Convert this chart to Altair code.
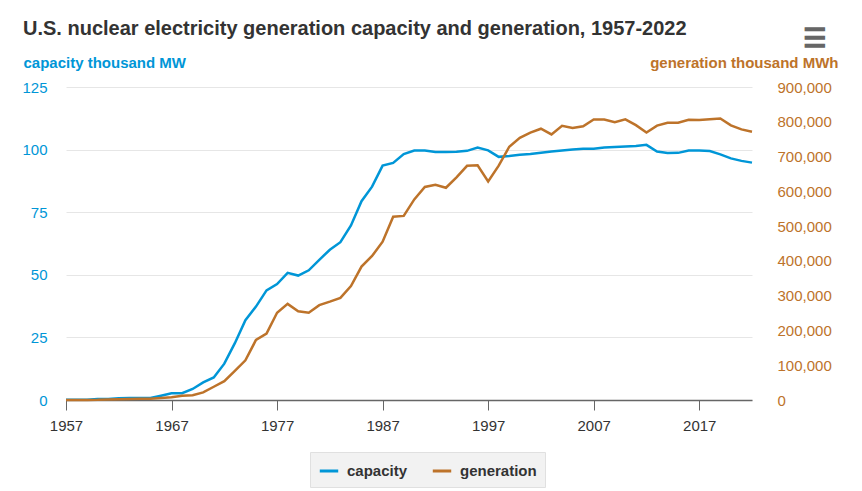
import altair as alt
import pandas as pd

years = list(range(1957, 2023))
capacity = [0.055, 0.055, 0.055, 0.411, 0.411, 0.658, 0.80, 0.80, 0.793, 1.7,
            2.7, 2.7, 4.4, 7.0, 9.0, 14.5, 22.7, 31.9, 37.3, 43.8,
            46.3, 50.8, 49.7, 51.8, 56.0, 60.0, 63.0, 69.7, 79.4, 85.2,
            93.6, 94.7, 98.2, 99.6, 99.6, 99.0, 99.0, 99.1, 99.5, 100.8,
            99.7, 97.1, 97.4, 97.9, 98.2, 98.7, 99.2, 99.6, 100.0, 100.3,
            100.3, 100.8, 101.0, 101.2, 101.4, 101.9, 99.2, 98.6, 98.7, 99.6,
            99.6, 99.4, 98.1, 96.5, 95.5, 94.8]
generation = [10, 165, 188, 518, 1692, 2270, 3212, 3343, 3657, 5520,
              7655, 12528, 13928, 21804, 38105, 54091, 83479, 113976, 172505, 191104,
              250883, 276403, 255155, 251116, 272674, 282773, 293677, 327634, 383691, 414038,
              455270, 526973, 529355, 576862, 612565, 618776, 610291, 640440, 673402, 674729,
              628644, 673702, 728254, 753893, 768826, 780064, 763733, 788528, 781986, 787219,
              806425, 806208, 798855, 806968, 790204, 769331, 789016, 797166, 797178, 805694,
              804950, 807084, 809409, 789879, 778152, 771537]
series_names = ["capacity", "generation"]
series_colors = ["#0096d7", "#bd732a"]
x_ticks = [1957, 1967, 1977, 1987, 1997, 2007, 2017]
cap_ticks = [0, 25, 50, 75, 100, 125]
gen_ticks = [0, 100000, 200000, 300000, 400000, 500000, 600000, 700000, 800000, 900000]

df = pd.DataFrame({"year": years, "capacity": capacity, "generation": generation})

FONT = "Liberation Sans"
color_scale = alt.Scale(domain=series_names, range=series_colors)

x_enc = alt.X("year:Q", scale=alt.Scale(domain=[1957, 2022], nice=False, zero=False),
              axis=alt.Axis(values=x_ticks, format="d", title=None, grid=False,
                            tickSize=10, tickColor="#666666", domainColor="#666666",
                            domainWidth=1.5, labelColor="#333333", labelFontSize=15,
                            labelPadding=8, labelFont=FONT, labelFlush=False))

legend = alt.Legend(title=None, orient="none", legendX=244, legendY=365,
                    direction="horizontal", fillColor="#f2f2f2",
                    strokeColor="#e0e0e0", padding=8,
                    symbolType="stroke", symbolStrokeWidth=3, symbolSize=340,
                    labelFontSize=15, labelFontWeight="bold",
                    labelColor="#333333", labelFont=FONT,
                    columnPadding=18, labelOffset=7)

cap_line = alt.Chart(df).transform_calculate(series="'capacity'").mark_line(strokeWidth=2.5).encode(
    x=x_enc,
    y=alt.Y("capacity:Q", scale=alt.Scale(domain=[0, 125], nice=False),
            axis=alt.Axis(values=cap_ticks, title="capacity thousand MW", titleAngle=0,
                          titleX=-43, titleY=-20, titleAlign="left", titleBaseline="alphabetic",
                          titleColor="#0096d7", titleFontSize=15, titleFont=FONT, titleFontWeight="bold",
                          labelColor="#0096d7", labelFontSize=15, labelFont=FONT,
                          labelPadding=19, ticks=False, domain=False,
                          grid=True, gridColor="#e6e6e6", gridWidth=1)),
    color=alt.Color("series:N", scale=color_scale, legend=legend),
)

gen_line = alt.Chart(df).transform_calculate(series="'generation'").mark_line(strokeWidth=2.5).encode(
    x=x_enc,
    y=alt.Y("generation:Q", scale=alt.Scale(domain=[0, 900000], nice=False),
            axis=alt.Axis(values=gen_ticks, format=",d", orient="right",
                          title="generation thousand MWh", titleAngle=0,
                          titleX=86, titleY=-20, titleAlign="right", titleBaseline="alphabetic",
                          titleColor="#bd732a", titleFontSize=15, titleFont=FONT, titleFontWeight="bold",
                          labelColor="#bd732a", labelFontSize=15, labelFont=FONT,
                          labelPadding=25, ticks=False, domain=False, grid=False)),
    color=alt.Color("series:N", scale=color_scale, legend=legend),
)

menu_icon = alt.Chart(pd.DataFrame({"icon": ["☰"]})).mark_text(
    font="DejaVu Sans", fontSize=26, color="#666666", stroke="#666666", strokeWidth=1.4,
    align="center", baseline="middle"
).encode(text="icon:N", x=alt.value(749), y=alt.value(-48))

chart = alt.layer(cap_line, gen_line, menu_icon).resolve_scale(y="independent").properties(
    width=686, height=313,
    autosize=alt.AutoSizeParams(type="none"),
    padding={"left": 58, "top": 79, "right": 102, "bottom": 96},
    title=alt.TitleParams("U.S. nuclear electricity generation capacity and generation, 1957-2022",
                          anchor="start", frame="group", dx=-43, dy=13, offset=0,
                          fontSize=20, font=FONT, fontWeight="bold", color="#333333"),
).configure_view(stroke=None)

chart.save("out.html", embed_options={"renderer": "svg", "actions": False})
